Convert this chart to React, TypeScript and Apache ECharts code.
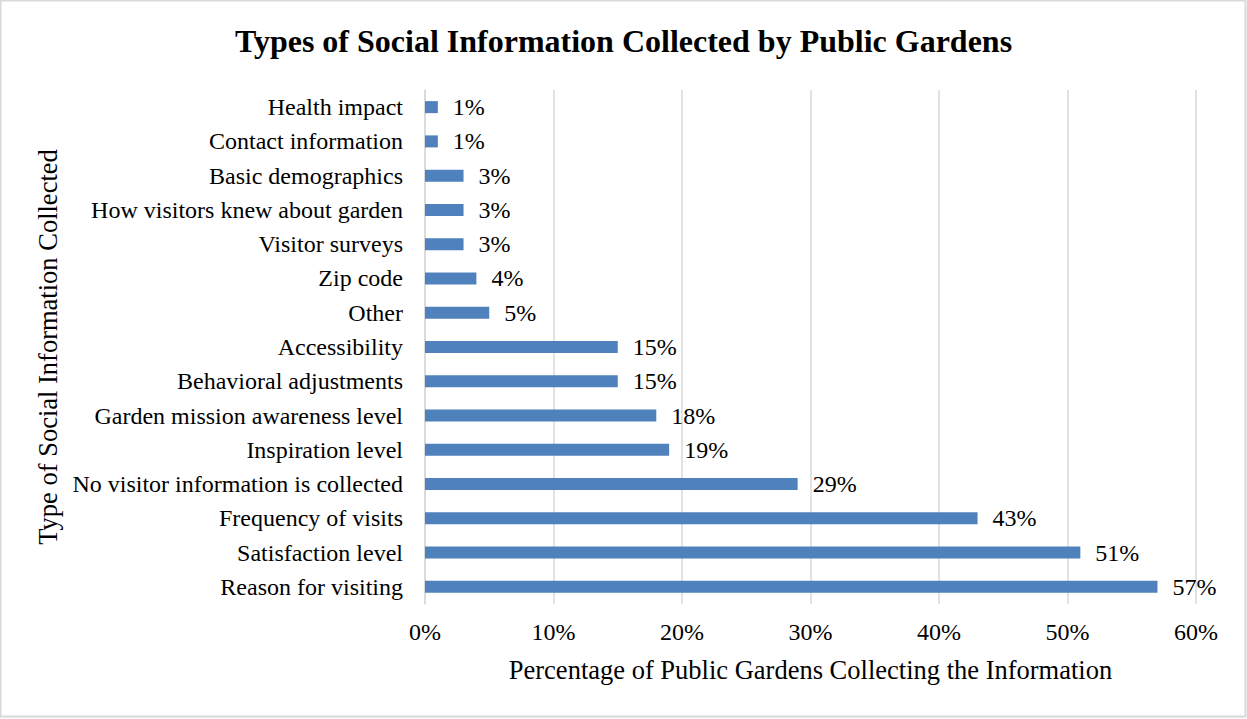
import React, { useEffect, useRef } from "react";
import * as echarts from "echarts";

const categories = [
  "Health impact",
  "Contact information",
  "Basic demographics",
  "How visitors knew about garden",
  "Visitor surveys",
  "Zip code",
  "Other",
  "Accessibility",
  "Behavioral adjustments",
  "Garden mission awareness level",
  "Inspiration level",
  "No visitor information is collected",
  "Frequency of visits",
  "Satisfaction level",
  "Reason for visiting",
];
const values = [1, 1, 3, 3, 3, 4, 5, 15, 15, 18, 19, 29, 43, 51, 57];

const FONT = "'Liberation Serif', 'Times New Roman', serif";

export default function App() {
  const ref = useRef<HTMLDivElement>(null);
  useEffect(() => {
    const chart = echarts.init(ref.current!, null, { renderer: "svg" });
    chart.setOption({
      animation: false,
      backgroundColor: "#ffffff",
      title: {
        text: "Types of Social Information Collected by Public Gardens",
        left: "center",
        top: 20,
        textStyle: { fontFamily: FONT, fontSize: 32, fontWeight: "bold", color: "#000" },
      },
      graphic: [
        {
          type: "rect",
          shape: { x: 0.5, y: 0.5, width: 1245, height: 716 },
          style: { fill: "none", stroke: "#d9d9d9", lineWidth: 2 },
          silent: true,
        },
      ],
      grid: { left: 425, right: 51, top: 90, bottom: 115 },
      xAxis: {
        type: "value",
        min: 0,
        max: 60,
        interval: 10,
        name: "Percentage of Public Gardens Collecting the Information",
        nameLocation: "middle",
        nameGap: 52,
        nameTextStyle: { fontFamily: FONT, fontSize: 26.5, color: "#000" },
        axisLabel: {
          formatter: "{value}%",
          fontFamily: FONT,
          fontSize: 24,
          color: "#000",
          margin: 16,
        },
        axisLine: { show: false },
        axisTick: { show: false },
        splitLine: { show: true, lineStyle: { color: "#d9d9d9", width: 1.5 } },
      },
      yAxis: {
        type: "category",
        data: categories,
        inverse: true,
        name: "Type of Social Information Collected",
        nameLocation: "middle",
        nameGap: 357,
        nameTextStyle: { fontFamily: FONT, fontSize: 26.5, color: "#000" },
        axisLabel: { fontFamily: FONT, fontSize: 24, color: "#000", margin: 22 },
        axisLine: { show: true, lineStyle: { color: "#d9d9d9", width: 1.5 } },
        axisTick: { show: false },
      },
      series: [
        {
          type: "bar",
          data: values,
          barWidth: 12,
          itemStyle: { color: "#4f81bd" },
          label: {
            show: true,
            position: "right",
            distance: 15,
            formatter: "{c}%",
            fontFamily: FONT,
            fontSize: 24,
            color: "#000",
          },
        },
      ],
    });
    return () => chart.dispose();
  }, []);
  return (
    <div
      ref={ref}
      style={{ position: "fixed", left: 0, top: 0, width: 1247, height: 719 }}
    />
  );
}
